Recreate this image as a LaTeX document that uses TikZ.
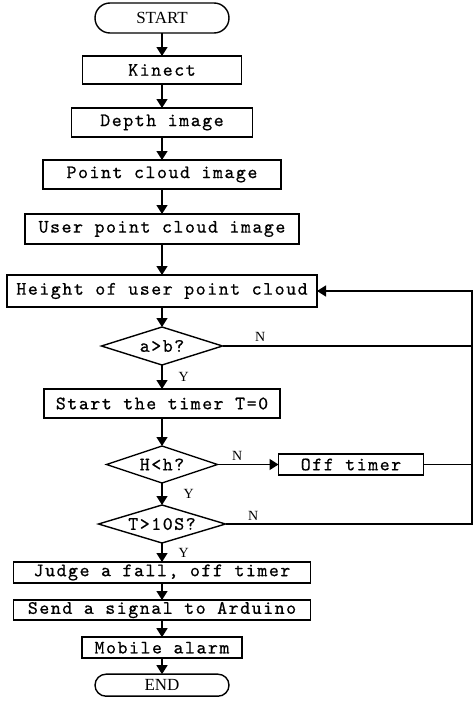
\documentclass[tikz,border=0pt]{standalone}
\usepackage{fontspec}
\newfontfamily\flowfont{lmmono10-regular.otf}[LetterSpace=8,FakeBold=0.6]
\newfontfamily\markfont{Liberation Serif}
\usetikzlibrary{arrows.meta,shapes.geometric,shapes.misc,positioning}

\begin{document}
\begin{tikzpicture}[x=1pt, y=1pt, line width=1.4pt,
  >={Triangle[length=9pt,width=11pt]},
  unit/.style={rectangle, draw, inner sep=2pt, outer sep=0pt, text centered, font=\fontsize{19}{22}\flowfont},
  term/.style={rounded rectangle, draw, minimum width=138pt, inner sep=2pt, outer sep=0pt, font=\fontsize{17}{20}\markfont},
  test/.style={diamond, draw, aspect=3, inner sep=0pt, outer sep=0pt, font=\fontsize{19}{22}\flowfont},
  lbl/.style={inner sep=1pt, font=\fontsize{14}{16}\markfont}]

\useasboundingbox (0,0) rectangle (474,-707);

%Nodes
\node[term, minimum height=30pt]                          (start)  at (162,-18)        {START};
\node[unit, minimum width=159pt, minimum height=28pt]     (kinect) [below=23pt of start]  {Kinect};
\node[unit, minimum width=181pt, minimum height=29pt]     (depth)  [below=24pt of kinect] {Depth image};
\node[unit, minimum width=238pt, minimum height=29pt]     (point)  [below=23pt of depth]  {Point cloud image};
\node[unit, minimum width=274pt, minimum height=30pt]     (user)   [below=25pt of point]  {User point cloud image};
\node[unit, minimum width=310pt, minimum height=32pt]     (height) [below=31pt of user]   {Height of user point cloud};
\node[test, minimum width=121pt, minimum height=38pt]     (ab)     [below=20pt of height] {a>b?};
\node[unit, minimum width=236pt, minimum height=29pt]     (timer)  [below=24pt of ab]     {Start the timer T=0};
\node[test, minimum width=111pt, minimum height=37pt]     (hh)     [below=28pt of timer]  {H<h?};
\node[unit, minimum width=145pt, minimum height=21pt]     (off)    [right=61pt of hh]     {Off timer};
\node[test, minimum width=127pt, minimum height=38pt]     (tten)   [below=22pt of hh]     {T>10S?};
\node[unit, minimum width=297pt, minimum height=21pt]     (judge)  [below=19pt of tten]   {Judge a fall, off timer};
\node[unit, minimum width=297pt, minimum height=20pt]     (send)   [below=17pt of judge]  {Send a signal to Arduino};
\node[unit, minimum width=160pt, minimum height=21pt]     (mobile) [below=17pt of send]   {Mobile alarm};
\node[term, minimum height=22pt]                          (end)    [below=16pt of mobile] {END};
\coordinate (rtop) at (height.east -| 472,0);

%Lines
\draw[->] (start.south) -- (kinect.north);
\draw[->] (kinect.south) -- (depth.north);
\draw[->] (depth.south) -- (point.north);
\draw[->] (point.south) -- (user.north);
\draw[->] (user.south) -- (height.north);
\draw[->] (height.south) -- (ab.north);
\draw[->] (ab.south) -- node[lbl, right=15pt] {Y} (timer.north);
\draw[->] (timer.south) -- (hh.north);
\draw[->] (hh.south) -- node[lbl, right=20pt] {Y} (tten.north);
\draw[->] (tten.south) -- node[lbl, right=15pt] {Y} (judge.north);
\draw[->] (judge.south) -- (send.north);
\draw[->] (send.south) -- (mobile.north);
\draw[->] (mobile.south) -- (end.north);

%Loop back
\draw[->] (hh.east) -- node[lbl, pos=0, anchor=south west, xshift=13pt, yshift=2pt] {N} (off.west);
\draw (ab.east) -- node[lbl, pos=0, anchor=south west, xshift=31pt, yshift=3pt] {N} (ab.east -| rtop);
\draw (off.east) -- (off.east -| rtop);
\draw[->] (tten.east) -- node[lbl, pos=0, anchor=south west, xshift=21pt, yshift=2pt] {N} (tten.east -| rtop) -- (rtop) -- (height.east);

\end{tikzpicture}
\end{document}
